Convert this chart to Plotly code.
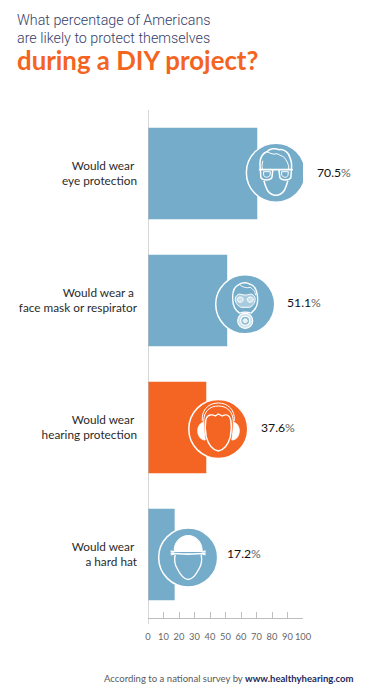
import re
import plotly.graph_objects as go

categories = ["Would wear\u00a0<br>eye protection", "Would wear a\u00a0<br>face mask or respirator",
              "Would wear\u00a0<br>hearing protection", "Would wear\u00a0<br>a hard hat"]
values = [70.5, 51.1, 37.6, 17.2]
value_labels = ["70.5", "51.1", "37.6", "17.2"]
x_ticks = [0, 10, 20, 30, 40, 50, 60, 70, 80, 90, 100]
title_lines = ["What percentage of Americans", "are likely to protect themselves"]
title_bold = "during a DIY project?"
footer_plain = "According to a national survey by "
footer_bold = "www.healthyhearing.com"

BLUE, ORANGE, NAVY = "#74acca", "#f46524", "#34406a"
bar_colors = [BLUE, BLUE, ORANGE, BLUE]
# pixel offsets of the badges from the end of each bar / centre of each row
badge_dx = [18.6, 18.0, 12.0, 13.5]
badge_dy = [-0.8, 3.8, 1.5, 3.0]
label_dx = [58.0, 58.0, 52.4, 50.2]
label_dy = [-0.8, 1.7, 0.0, -1.0]
R = 29.5

EYE = [
 ("M-15.5,-3 C-17,-13 -14,-19 -9,-21 C-6,-24 -1,-25 3,-23 C7,-24 13,-21 14,-15 C16,-11 16,-7 15.5,-3", 1.5, None),
 ("M-9,-21 C-5,-19 -2,-18 1,-19 C5,-17 9,-16 10,-13 C12,-10 13,-7 13,-3", 1.0, None),
 ("M-13,-12 C-14,-9 -14,-6 -13.5,-3", 1.0, None),
 ("M-12,8 C-10,15 -8,22.5 0,22.5 C8,22.5 10,15 12,8", 1.5, None),
 ("M-17,-3 L17,-3", 1.8, None),
 ("M-15.5,-3 L-15,5 C-13,8 -6,8 -4,5 L-3,-3", 1.5, None),
 ("M15.5,-3 L15,5 C13,8 6,8 4,5 L3,-3", 1.5, None),
 ("M-12.5,-1 L-12,3 C-11,5 -8,5 -6,3 L-5.5,-1 Z", 1.0, None),
 ("M12.5,-1 L12,3 C11,5 8,5 6,3 L5.5,-1 Z", 1.0, None),
]
MASK = [
 ("M-12.5,-5 C-13,-13 -11,-18 -6,-20 C-3,-22 2,-22 5,-20 C9,-19 12,-15 12.5,-5", 1.4, None),
 ("M-6,-20 C-3,-17 2,-16 5,-17 C8,-15 10,-13 10.5,-9", 0.9, None),
 ("M-12.5,-5 C-12.5,1 -10,6 -5.5,9", 1.4, None),
 ("M12.5,-5 C12.5,1 10,6 5.5,9", 1.4, None),
 ("M-10,-5 C-10,-9 -6,-11 -4.5,-10 C-1,-9 1,-9 4.5,-10 C6,-11 10,-9 10,-5 C10,-1 6,3 4,3 L-4,3 C-6,3 -10,-1 -10,-5 Z", 1.0, "#a9cbde"),
 ("M-8,-5 C-8,-8 -2,-8 -2,-5 C-2,-1 -8,-1 -8,-5 Z", 1.0, "#cfe2ec"),
 ("M2,-5 C2,-8 8,-8 8,-5 C8,-1 2,-1 2,-5 Z", 1.0, "#cfe2ec"),
 ("M-5.5,9 C-3,7.5 3,7.5 5.5,9", 1.2, None),
 ("M-7.5,16.5 C-7.5,6.5 7.5,6.5 7.5,16.5 C7.5,26.5 -7.5,26.5 -7.5,16.5 Z", 1.2, "#cfe2ec"),
 ("M-4.5,16.5 C-4.5,10.5 4.5,10.5 4.5,16.5 C4.5,22.5 -4.5,22.5 -4.5,16.5 Z", 1.1, "#8fbcd4"),
 ("M-2,16.5 C-2,14 2,14 2,16.5 C2,19 -2,19 -2,16.5 Z", 1.0, "#e6f0f5"),
]
EARS = [
 ("M-14.5,-7 C-15,-18 -8,-23 0,-23 C8,-23 15,-18 15,-7", 1.0, None),
 ("M-16,-8 C-17,-20 -9,-26 0,-26 C9,-26 17,-20 16,-8", 1.0, None),
 ("M-12.5,-9 C-11,-15 -6,-15 -3,-13 L0,-15 L4,-13 C7,-15 11,-15 12.5,-9", 1.3, None),
 ("M-12.5,-9 C-13.5,-3 -13,3 -12,8 C-10,15 -6,21 0,22 C6,21 10,15 12,8 C13,3 13.5,-3 12.5,-9", 1.4, None),
 ("M-14.5,-7 C-19,-6 -21,-1 -20.5,3 C-20,8 -17,11 -13,11 C-14,5 -14.5,-1 -14.5,-7 Z", 0.8, "#ffffff"),
 ("M15,-7 C19.5,-6 21.5,-1 21,3 C20.5,8 17.5,11 13.5,11 C14.5,5 15,-1 15,-7 Z", 0.8, "#ffffff"),
]
HAT = [
 ("M-14,-6 C-14.5,-15 -8,-22 0,-22 C8,-22 14.5,-15 14,-6 Z", 1.0, "#ffffff"),
 ("M-17.5,-4.5 C-9,-3 9,-3 17.5,-4.5", 1.6, None),
 ("M-17.5,-6.5 L-14,-5.5 M17.5,-6.5 L14,-5.5", 1.4, None),
 ("M-17.5,-2.5 L-14,-3.5 M17.5,-2.5 L14,-3.5", 1.2, None),
 ("M-13,-3 C-14,2 -13.5,7 -11,11 C-8,17 -4,22 0,22 C4,22 8,17 11,11 C13.5,7 14,2 13,-3", 1.4, None),
]
ICONS = [EYE, MASK, EARS, HAT]


def to_pixel_path(path, dx, dy):
    """Shift a y-down local path and flip it to plotly's y-up pixel convention."""
    def pair(m):
        return f"{float(m.group(1)) + dx:.2f},{-(float(m.group(2)) + dy):.2f}"
    return re.sub(r"(-?[\d.]+),(-?[\d.]+)", pair, path)


fig = go.Figure(go.Bar(x=values, y=categories, orientation="h", width=0.72,
                       marker=dict(color=bar_colors, line_width=0), hoverinfo="skip"))

shapes = [dict(type="line", xref="x", yref="y domain", x0=0, x1=0, y0=-0.0118, y1=1,
               line=dict(color="#bdbdbd", width=1.2), layer="above")]
anns = []
for i, cat in enumerate(categories):
    anchor = dict(xref="x", yref="y", xsizemode="pixel", ysizemode="pixel",
                  xanchor=values[i], yanchor=cat, layer="above")
    c = f"M{-R},0 C{-R},{R*0.5523:.2f} {-R*0.5523:.2f},{R} 0,{R} C{R*0.5523:.2f},{R} {R},{R*0.5523:.2f} {R},0 " \
        f"C{R},{-R*0.5523:.2f} {R*0.5523:.2f},{-R} 0,{-R} C{-R*0.5523:.2f},{-R} {-R},{-R*0.5523:.2f} {-R},0 Z"
    shapes.append(dict(type="path", path=to_pixel_path(c, badge_dx[i], badge_dy[i]),
                       fillcolor=bar_colors[i], line=dict(color="white", width=1.5), **anchor))
    for p, w, fill in ICONS[i]:
        shapes.append(dict(type="path", path=to_pixel_path(p, badge_dx[i], badge_dy[i]),
                           fillcolor=fill or "rgba(0,0,0,0)", line=dict(color="white", width=w), **anchor))
    anns.append(dict(x=values[i], y=cat, xref="x", yref="y", xanchor="left", yanchor="middle",
                     xshift=label_dx[i], yshift=-label_dy[i], showarrow=False,
                     text=f'{value_labels[i]}<span style="color:#666">%</span>',
                     font=dict(family="Lato", size=12.2, color="#111111")))

P_H = 508.0
def py(y_px):
    return (618 - y_px) / P_H
def px(x_px):
    return (x_px - 147.5) / 155.5

for line, y in zip(title_lines, [20, 37.5]):
    anns.append(dict(x=px(14), y=py(y), xref="paper", yref="paper", xanchor="left", yanchor="middle",
                     showarrow=False, text=line,
                     font=dict(family="Roboto", size=14.3, weight=300, color=NAVY)))
anns.append(dict(x=px(14), y=py(60.5), xref="paper", yref="paper", xanchor="left", yanchor="middle",
                 showarrow=False, text=f"<b>{title_bold}</b>",
                 font=dict(family="Lato", size=25.8, color="#f4641f")))
anns.append(dict(x=px(101), y=py(678.5), xref="paper", yref="paper", xanchor="left", yanchor="middle",
                 showarrow=False,
                 text=f'{footer_plain}<b style="color:#1f2a5c">{footer_bold}</b>',
                 font=dict(family="Lato", size=9.55, color="#5a5a5a")))

# The page adds an 8px body margin, so the figure is 8px smaller and offset.
fig.update_layout(
    width=369, height=692, autosize=False, paper_bgcolor="white", plot_bgcolor="white",
    margin=dict(l=139.5, r=74, t=102, b=82, pad=0), showlegend=False,
    shapes=shapes, annotations=anns, bargap=0.28,
    xaxis=dict(range=[0, 100], tickvals=x_ticks, ticks="inside", ticklen=6, tickwidth=1,
               tickcolor="#bdbdbd", showline=True, linecolor="#bdbdbd", linewidth=1.2,
               showgrid=False, zeroline=False, ticklabelstandoff=10, tickangle=0,
               tickfont=dict(family="Lato", size=9.3, color="#666")),
    yaxis=dict(type="category", categoryorder="array", categoryarray=categories,
               range=[3.5, -0.5], showgrid=False, zeroline=False, showline=False,
               ticks="", ticklabelstandoff=10,
               tickfont=dict(family="Lato", size=11.8, color="#2b2b2b")),
)
fig.write_html("out.html", config=dict(displayModeBar=False))
